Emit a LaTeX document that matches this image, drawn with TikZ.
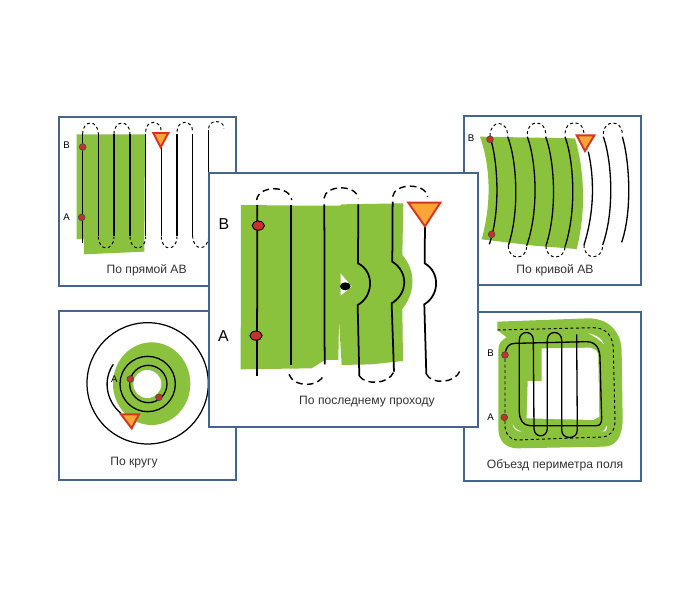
\documentclass[tikz,border=0pt]{standalone}
\usepackage{fontspec}
\setmainfont{Liberation Sans}
\usepackage{xcolor}
\usetikzlibrary{shapes.geometric}
\definecolor{fieldgreen}{HTML}{8AC23E}
\definecolor{panelblue}{HTML}{46648C}
\definecolor{yieldred}{HTML}{D8341E}
\definecolor{yieldfill}{HTML}{F7A637}
\definecolor{dotred}{HTML}{C8302C}

\begin{document}
\begin{tikzpicture}[
    x=0.02cm,
    y=-0.02cm,
    panel/.style={
        draw=panelblue,
        line width=0.9pt,
        fill=white
    },
    caption/.style={
        inner sep=0pt,
        text=black!80,
        font=\fontsize{6.9}{9}\selectfont
    },
    ablabel/.style={
        inner sep=0pt,
        font=\fontsize{5.5}{7}\selectfont
    },
    biglabel/.style={
        inner sep=0pt,
        font=\fontsize{9}{10}\selectfont
    },
    field/.style={fill=fieldgreen, draw=none},
    pass/.style={draw=black, line width=0.75pt},
    bigpass/.style={draw=black, line width=1pt},
    turn/.style={draw=black, line width=0.55pt, dash pattern=on 1.7pt off 1.5pt},
    bigturn/.style={draw=black, line width=0.8pt, dash pattern=on 3.8pt off 2.4pt},
    abmark/.style={
        draw=black!70,
        fill=dotred,
        circle,
        line width=0.4pt,
        minimum size=3.8pt,
        inner sep=0pt
    },
    bigmark/.style={
        draw=black,
        fill=dotred,
        ellipse,
        line width=0.5pt,
        minimum width=7pt,
        minimum height=5.2pt,
        inner sep=0pt
    },
    yield/.style={draw=yieldred, fill=yieldfill, line width=1.1pt, line join=miter}
]
    \useasboundingbox (0,0) rectangle (700,600);

    % straight AB
    \draw[panel] (59,117) rectangle (236,286);
    \begin{scope}[shift={(50,105)},scale=0.3333]
        \fill[field] (80,88) -- (285,88) -- (283,440) -- (102,448) -- (102,403) -- (80,402) -- cycle;
        \foreach \xa/\xb/\yb in {98/145/87,192/240/87,287/334/80,381/428/80,476/522/70}
            \draw[turn] (\xa,\yb) .. controls (\xa,43) and (\xb,43) .. (\xb,\yb);
        \foreach \xa/\xb/\yb in {145/192/395,240/287/395,334/381/395,428/476/392}
            \draw[turn] (\xa,\yb) .. controls (\xa,440) and (\xb,440) .. (\xb,\yb);
        \draw[pass] (98,87) -- (98,413);
        \foreach \xa in {145,192,240,287,381,428}
            \draw[pass] (\xa,87) -- (\xa,392);
        \draw[pass] (334,125) -- (334,392);
        \draw[pass] (476,75) -- (476,210);
        \draw[yield] (310,84) -- (355,84) -- (332,127) -- cycle;
        \node[abmark] (strb) at (98,126) {};
        \node[abmark] (stra) at (95,337) {};
        \node[ablabel] (strblabel) at (50,122) {B};
        \node[ablabel] (stralabel) at (50,337) {A};
        \node[caption] (strtext) at (290,497) {По прямой АВ};
    \end{scope}

    % curved AB
    \draw[panel] (464,116) rectangle (641,285);
    \begin{scope}[shift={(460,110)},scale=0.3333]
        \fill[field] (60,80) -- (345,85) .. controls (365,150) and (385,280) .. (350,417)
            -- (232,408) -- (65,388) .. controls (92,290) and (95,180) .. cycle;
        \foreach \xa/\xb/\yb in {90/143/78,202/257/72,315/372/70,430/487/72}
            \draw[turn] (\xa,\yb) .. controls (\xa,28) and (\xb,28) .. (\xb,\yb);
        \foreach \xa/\xb/\yb in {145/200/408,258/315/408,372/428/405}
            \draw[turn] (\xa,\yb) .. controls (\xa,452) and (\xb,452) .. (\xb,\yb);
        \foreach \xa/\xm/\xb/\yb in {90/115/88/403,143/172/145/407,202/230/200/407,257/285/258/407,315/343/315/410,430/457/428/405,487/510/485/397}
            \draw[pass] (\xa,80) .. controls ({\xm-2},150) and ({\xm+8},300) .. (\xb,\yb);
        \draw[pass] (385,125) .. controls (402,200) and (405,300) .. (372,405);
        \draw[yield] (350,76) -- (403,76) -- (375,123) -- cycle;
        \node[abmark] (crvb) at (90,88) {};
        \node[abmark] (crva) at (95,373) {};
        \node[ablabel] (crvblabel) at (33,85) {B};
        \node[caption] (crvtext) at (285,480) {По кривой АВ};
    \end{scope}

    % circle
    \draw[panel] (59,311) rectangle (236,480);
    \begin{scope}[shift={(50,305)},scale=0.3333]
        \draw[line width=0.7pt] (293,235) circle (182);
        \fill[field] (305,236) ellipse (116 and 124);
        \fill[white] (292,237) circle (42);
        \draw[pass] (190,178) .. controls (160,220) and (165,285) .. (213,325);
        \draw[pass] (293,237) circle (83);
        \draw[pass] (295,237) circle (56);
        \draw[yield] (213,328) -- (267,328) -- (245,370) -- cycle;
        \node[abmark] (cira) at (241,222) {};
        \node[abmark] (cirb) at (327,277) {};
        \node[ablabel] (ciralabel) at (193,222) {A};
        \node[caption] (cirtext) at (252,472) {По кругу};
    \end{scope}

    % field perimeter
    \draw[panel] (464,312) rectangle (641,481);
    \begin{scope}[shift={(460,305)},scale=0.3333]
        \fill[field] (112,50) -- (385,40) .. controls (450,40) and (485,85) .. (485,140)
            -- (488,340) .. controls (488,400) and (465,425) .. (430,425)
            -- (170,430) .. controls (130,428) and (115,400) .. (115,370)
            -- (115,135) .. controls (115,115) and (125,105) .. (140,97) -- (112,75) -- cycle;
        \fill[white] (245,130) -- (390,128) .. controls (408,132) and (415,140) .. (415,155)
            -- (418,335) -- (400,345) -- (200,340) -- (203,228) -- (245,228) -- cycle;
        \fill[white] (385,85) .. controls (410,90) and (425,100) .. (432,118) .. controls (420,105) and (405,95) .. cycle;
        \fill[white] (158,358) .. controls (165,370) and (172,376) .. (185,380) .. controls (172,380) and (160,372) .. cycle;
        \fill[white] (428,380) .. controls (434,375) and (438,370) .. (440,362) .. controls (443,372) and (438,380) .. cycle;
        \draw[turn] (112,75) -- (400,68) .. controls (440,68) and (460,95) .. (460,135)
            -- (465,345) .. controls (465,380) and (450,395) .. (425,396)
            -- (170,405) .. controls (150,405) and (135,385) .. (135,360) -- (135,150);
        \draw[pass] (135,150) .. controls (137,125) and (148,115) .. (165,115) -- (380,110)
            .. controls (410,110) and (420,135) .. (420,160) -- (425,340)
            .. controls (425,355) and (420,362) .. (410,362) -- (210,362)
            .. controls (190,362) and (178,345) .. (178,320) -- (178,105)
            .. controls (178,75) and (220,75) .. (220,105) -- (222,370)
            .. controls (222,400) and (262,400) .. (262,370) -- (262,105)
            .. controls (262,75) and (305,75) .. (305,105) -- (305,375)
            .. controls (305,405) and (352,405) .. (352,375) -- (350,88);
        \node[abmark] (perb) at (135,150) {};
        \node[abmark] (pera) at (133,337) {};
        \node[ablabel] (perblabel) at (92,145) {B};
        \node[ablabel] (peralabel) at (92,337) {A};
        \node[caption] (pertext) at (285,482) {Объезд периметра поля};
    \end{scope}

    % last pass
    \draw[panel] (209,173) rectangle (478,427);
    \begin{scope}[shift={(205,165)},scale=0.3333]
        \fill[field] (108,120) -- (320,122) -- (405,122) -- (410,118) -- (595,115) -- (592,270)
            .. controls (635,320) and (630,385) .. (592,432) -- (594,588) -- (500,598) -- (410,600)
            -- (402,465) -- (400,585) -- (360,585) -- (320,610) -- (107,613) -- cycle;
        \fill[white] (407,325) -- (440,365) -- (407,392) -- cycle;
        \fill[black] (421,364) ellipse (16 and 12);
        \draw[bigturn] (155,105) .. controls (160,60) and (255,60) .. (260,105);
        \draw[bigturn] (357,100) .. controls (362,58) and (455,58) .. (460,100);
        \draw[bigturn] (563,95) .. controls (568,53) and (663,53) .. (668,95);
        \draw[bigturn] (252,628) .. controls (265,668) and (345,668) .. (357,628);
        \draw[bigturn] (463,633) .. controls (480,660) and (550,660) .. (567,620);
        \draw[bigturn] (664,627) .. controls (680,660) and (750,655) .. (765,618);
        \draw[bigpass] (157,120) -- (156,633);
        \draw[bigpass] (258,120) -- (258,600);
        \draw[bigpass] (358,118) -- (359,598);
        \draw[bigpass] (460,118) -- (459,295) .. controls (510,320) and (505,395) .. (458,420) -- (463,633);
        \draw[bigpass] (563,110) -- (562,290) .. controls (610,320) and (610,385) .. (560,415) -- (567,620);
        \draw[bigpass] (660,185) -- (659,295) .. controls (705,320) and (705,390) .. (658,418) -- (664,627);
        \draw[yield] (610,113) -- (706,113) -- (660,184) -- cycle;
        \node[bigmark] (lastb) at (160,182) {};
        \node[bigmark] (lasta) at (153,512) {};
        \node[biglabel] (lastblabel) at (57,177) {B};
        \node[biglabel] (lastalabel) at (55,512) {A};
        \node[caption] (lasttext) at (486,710) {По последнему проходу};
    \end{scope}
\end{tikzpicture}
\end{document}
